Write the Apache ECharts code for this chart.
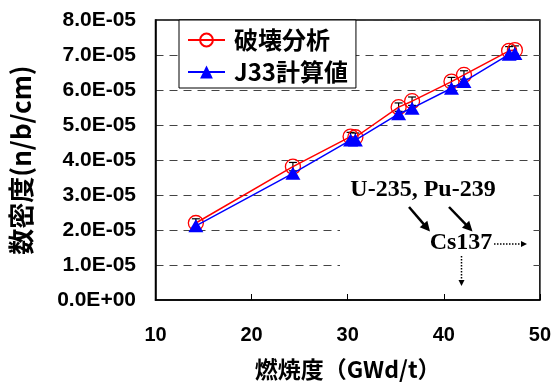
<!DOCTYPE html>
<html><head><meta charset="utf-8">
<script src="https://cdn.jsdelivr.net/npm/echarts@6/dist/echarts.min.js"></script>
<style>html,body{margin:0;padding:0;background:#fff}#c{width:554px;height:386px}</style>
</head><body><div id="c"></div>
<script>
// Burnup (GWd/t)
const burnup = [14.2, 24.3, 30.3, 30.8, 35.3, 36.7, 40.8, 42.1, 46.8, 47.4];
// 破壊分析 (measured)
const measured = [2.20e-5, 3.81e-5, 4.67e-5, 4.65e-5, 5.51e-5, 5.68e-5, 6.24e-5, 6.43e-5, 7.12e-5, 7.14e-5];
// error of measurement
const measErr = [0.12e-5, 0.12e-5, 0.12e-5, 0.12e-5, 0.12e-5, 0.12e-5, 0.12e-5, 0.12e-5, 0.12e-5, 0.12e-5];
// J33計算値 (calculated)
const calc = [2.12e-5, 3.62e-5, 4.57e-5, 4.57e-5, 5.32e-5, 5.48e-5, 6.05e-5, 6.24e-5, 7.02e-5, 7.04e-5];
const xTicks = [10, 20, 30, 40, 50];
const seriesNames = ['破壊分析', 'J33計算値'];

const JP = '"Noto Sans CJK JP", sans-serif';
const LAT = '"Liberation Sans", Arial, sans-serif';
const SERIF = '"Liberation Serif", "Times New Roman", serif';

function fmtY(v) {
  if (Math.abs(v) < 1e-12) return '0.0E+00';
  const e = Math.floor(Math.log10(v) + 1e-9);
  const m = v / Math.pow(10, e);
  return m.toFixed(1) + 'E' + (e < 0 ? '-' : '+') + String(Math.abs(e)).padStart(2, '0');
}

function arrowHead(x1, y1, x2, y2, len, half) {
  const dx = x2 - x1, dy = y2 - y1, L = Math.hypot(dx, dy);
  const ux = dx / L, uy = dy / L;
  const bx = x2 - ux * len, by = y2 - uy * len;
  return [[x2, y2], [bx - uy * half, by + ux * half], [bx + uy * half, by - ux * half]];
}
function arrow(x1, y1, x2, y2, dotted, w) {
  const len = dotted ? 6 : 10, half = dotted ? 3 : 5;
  const L = Math.hypot(x2 - x1, y2 - y1);
  const ux = (x2 - x1) / L, uy = (y2 - y1) / L;
  return [
    { type: 'line', shape: { x1, y1, x2: x2 - ux * len * 0.8, y2: y2 - uy * len * 0.8 },
      style: { stroke: '#000', lineWidth: w, lineDash: dotted ? [1.5, 1.5] : null }, z: 10 },
    { type: 'polygon', shape: { points: arrowHead(x1, y1, x2, y2, len, half) }, style: { fill: '#000' }, z: 10 }
  ];
}

const chart = echarts.init(document.getElementById('c'), null, { renderer: 'canvas' });
const option = {
  backgroundColor: '#fff',
  animation: false,
  grid: { left: 155.5, right: 11, top: 20, bottom: 79.5, show: true, borderColor: '#000', borderWidth: 1.5, backgroundColor: 'transparent' },
  legend: {
    left: 179, top: 20, orient: 'vertical',
    padding: [7, 8, 3, 8], itemGap: 6,
    itemWidth: 37, itemHeight: 16,
    borderColor: '#000', borderWidth: 1, backgroundColor: '#fff',
    data: seriesNames,
    textStyle: { fontFamily: JP, fontWeight: 'bold', fontSize: 24, color: '#000', lineHeight: 26, padding: [0, 0, 0, 4] }
  },
  xAxis: {
    type: 'value', min: 10, max: 50, interval: 10,
    name: '燃焼度（GWd/t）', nameLocation: 'middle', nameGap: 58,
    nameTextStyle: { fontFamily: JP, fontWeight: 'bold', fontSize: 23, color: '#000' },
    axisLine: { lineStyle: { color: '#000', width: 1.5 } },
    axisTick: { inside: true, length: 6, lineStyle: { color: '#000' } },
    axisLabel: { margin: 25, fontFamily: LAT, fontWeight: 'bold', fontSize: 20, color: '#000',
      formatter: v => xTicks.includes(v) ? String(v) : '' },
    splitLine: { show: false }
  },
  yAxis: {
    type: 'value', min: 0, max: 8e-5, interval: 1e-5,
    name: '数密度(n/b/cm)', nameLocation: 'middle', nameGap: 121, nameRotate: 90,
    nameTextStyle: { fontFamily: JP, fontWeight: 'bold', fontSize: 26, color: '#000' },
    axisLine: { lineStyle: { color: '#000', width: 1.5 } },
    axisTick: { show: false },
    axisLabel: { margin: 19.5, fontFamily: LAT, fontWeight: 'bold', fontSize: 21, color: '#000', formatter: fmtY },
    splitLine: { show: true, lineStyle: { color: '#444', width: 1, type: [8, 6] } }
  },
  series: [
    {
      type: 'custom', name: 'err', silent: true, z: 3,
      data: burnup.map((x, i) => [x, measured[i] - measErr[i], measured[i] + measErr[i]]),
      renderItem: (params, api) => {
        const lo = api.coord([api.value(0), api.value(1)]);
        const hi = api.coord([api.value(0), api.value(2)]);
        const c = 4;
        return { type: 'group', children: [
          { type: 'line', shape: { x1: lo[0], y1: lo[1], x2: hi[0], y2: hi[1] }, style: { stroke: '#000', lineWidth: 1.2 } },
          { type: 'line', shape: { x1: hi[0] - c, y1: hi[1], x2: hi[0] + c, y2: hi[1] }, style: { stroke: '#000', lineWidth: 1.2 } },
          { type: 'line', shape: { x1: lo[0] - c, y1: lo[1], x2: lo[0] + c, y2: lo[1] }, style: { stroke: '#000', lineWidth: 1.2 } }
        ]};
      }
    },
    {
      type: 'line', name: seriesNames[0], z: 4,
      data: burnup.map((x, i) => [x, measured[i]]),
      symbol: 'circle', symbolSize: 15, showAllSymbol: true,
      lineStyle: { color: '#ff0000', width: 1.5 },
      itemStyle: { color: 'rgba(255,255,255,0)', borderColor: '#ff0000', borderWidth: 1.3 }
    },
    {
      type: 'line', name: seriesNames[1], z: 5,
      data: burnup.map((x, i) => [x, calc[i]]),
      symbol: 'triangle', symbolSize: [15, 13], showAllSymbol: true,
      lineStyle: { color: '#0000ff', width: 1.5 },
      itemStyle: { color: '#0000ff' }
    }
  ],
  graphic: [
    { type: 'rect', shape: { x: 340, y: 175, width: 190, height: 118 }, style: { fill: '#fff' }, z: 9 },
    { type: 'text', x: 423, y: 190, z: 10, style: { text: 'U-235, Pu-239', font: 'bold 24px ' + SERIF, fill: '#000', align: 'center', verticalAlign: 'middle' } },
    { type: 'text', x: 461, y: 243, z: 10, style: { text: 'Cs137', font: 'bold 24px ' + SERIF, fill: '#000', align: 'center', verticalAlign: 'middle' } },
    ...arrow(409, 207, 430, 231.5, false, 2.5),
    ...arrow(449, 207, 472.5, 231.5, false, 2.5),
    ...arrow(494, 244, 527, 244, true, 1.5),
    ...arrow(461.5, 256, 461.5, 286, true, 1.5)
  ]
};
chart.setOption(option);
</script>
</body></html>
